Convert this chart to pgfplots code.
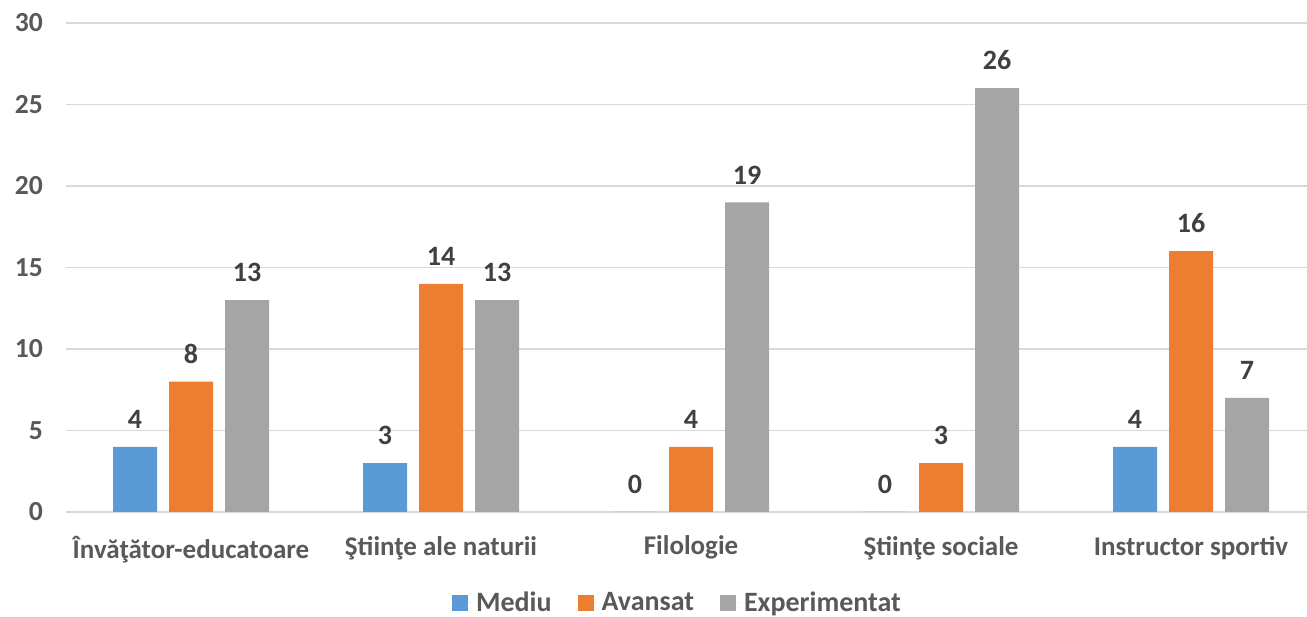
\documentclass[border=0pt]{standalone}
\usepackage{pgfplots}
\pgfplotsset{compat=1.18}
\usepackage{fontspec}
\setmainfont{Carlito}
\definecolor{cblue}{HTML}{5B9BD5}
\definecolor{corange}{HTML}{ED7D31}
\definecolor{cgray}{HTML}{A5A5A5}
\definecolor{ctext}{HTML}{595959}
\definecolor{clabel}{HTML}{404040}
\definecolor{cgrid}{HTML}{D9D9D9}
\begin{document}
\begin{tikzpicture}
\begin{axis}[
  scale only axis,
  width=625pt, height=244.5pt,
  ybar, bar width=22pt,
  xmin=-0.5, xmax=4.5,
  ymin=0, ymax=30,
  ytick={0,5,...,30},
  xtick={0,1,2,3,4},
  xticklabels={Învăţător-educatoare,Ştiinţe ale naturii,Filologie,Ştiinţe sociale,Instructor sportiv},
  axis line style={draw=none},
  major tick length=0pt,
  ymajorgrids, grid style={cgrid, line width=0.8pt},
  tick label style={font=\fontsize{13.5}{15}\selectfont\bfseries, text=ctext},
  yticklabel style={font=\fontsize{13.8}{15}\selectfont\bfseries},
  /pgf/number format/assume math mode=true,
  yticklabel style={xshift=-8pt},
  xticklabel style={yshift=-8.5pt},
  nodes near coords,
  nodes near coords style={font=\fontsize{14}{16}\selectfont\bfseries, text=clabel, yshift=5.5pt},
  legend style={at={(0.49,-0.186)}, anchor=center, draw=none, font=\fontsize{14}{16}\selectfont\bfseries, text=ctext, legend columns=-1, /tikz/every even column/.append style={column sep=11pt}},
  legend image code/.code={\fill[#1] (0pt,-4pt) rectangle (8pt,4pt); \path (8pt,0pt) -- (10pt,0pt);},
]
\addplot[fill=cblue, draw=none, bar shift=-28pt] coordinates {(0,4) (1,3) (2,0) (3,0) (4,4)};
\addplot[fill=corange, draw=none, bar shift=0pt] coordinates {(0,8) (1,14) (2,4) (3,3) (4,16)};
\addplot[fill=cgray, draw=none, bar shift=28pt] coordinates {(0,13) (1,13) (2,19) (3,26) (4,7)};
\legend{Mediu,Avansat,Experimentat}
\end{axis}
\pgfresetboundingbox
\path ([xshift=-33pt,yshift=-52.5pt]current axis.south west) rectangle ([xshift=-4.5pt,yshift=11.5pt]current axis.north east);
\end{tikzpicture}
\end{document}
